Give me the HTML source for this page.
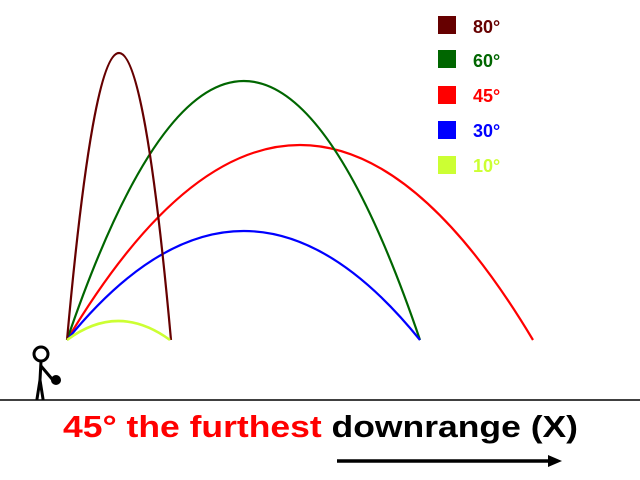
<!DOCTYPE html>
<html><head><meta charset="utf-8"><style>html,body{margin:0;padding:0;background:#fff;overflow:hidden}svg{display:block}</style></head>
<body>
<svg width="640" height="480" viewBox="0 0 640 480" xmlns="http://www.w3.org/2000/svg">
<g fill="none" stroke-width="2.2">
<path d="M67 340 Q300 -50 533 340" stroke="#ff0000"/>
<path d="M67 340 Q244 -178 420 340" stroke="#006600"/>
<path d="M67 340 Q244 122 420 340" stroke="#0000ff"/>
<path d="M67 340 Q119 -234 171 340" stroke="#660000"/>
<path d="M67 340 Q118 302 170 340" stroke="#ccff33" stroke-width="2.6"/>
</g>
<rect x="0" y="343" width="640" height="57" fill="#fff" opacity="0"/>
<line x1="0" y1="400" x2="640" y2="400" stroke="#000" stroke-width="1.5"/>
<g stroke="#000" stroke-width="3" fill="none" stroke-linecap="round">
<circle cx="41" cy="354" r="7"/>
<line x1="41" y1="361" x2="40" y2="380"/>
<line x1="40" y1="380" x2="37" y2="399"/>
<line x1="40" y1="380" x2="43" y2="399"/>
<line x1="41" y1="366" x2="52" y2="379"/>
</g>
<circle cx="56" cy="380" r="5" fill="#000"/>
<g font-family="Liberation Sans, sans-serif" font-weight="bold" font-size="18">
<rect x="438" y="16" width="18" height="18" fill="#660000"/><text x="473" y="33" fill="#660000">80°</text>
<rect x="438" y="50" width="18" height="18" fill="#006600"/><text x="473" y="67" fill="#006600">60°</text>
<rect x="438" y="86" width="18" height="18" fill="#ff0000"/><text x="473" y="102" fill="#ff0000">45°</text>
<rect x="438" y="121" width="18" height="18" fill="#0000ff"/><text x="473" y="137" fill="#0000ff">30°</text>
<rect x="438" y="156" width="18" height="18" fill="#ccff33"/><text x="473" y="172" fill="#ccff33">10°</text>
</g>
<text x="63" y="437" font-family="Liberation Sans, sans-serif" font-weight="bold" font-size="31" textLength="515" lengthAdjust="spacingAndGlyphs"><tspan fill="#ff0000">45° the furthest </tspan><tspan fill="#000">downrange (X)</tspan></text>
<line x1="337" y1="461" x2="552" y2="461" stroke="#000" stroke-width="3.5"/>
<polygon points="562,461 548,455 548,467" fill="#000"/>
</svg>
</body></html>
